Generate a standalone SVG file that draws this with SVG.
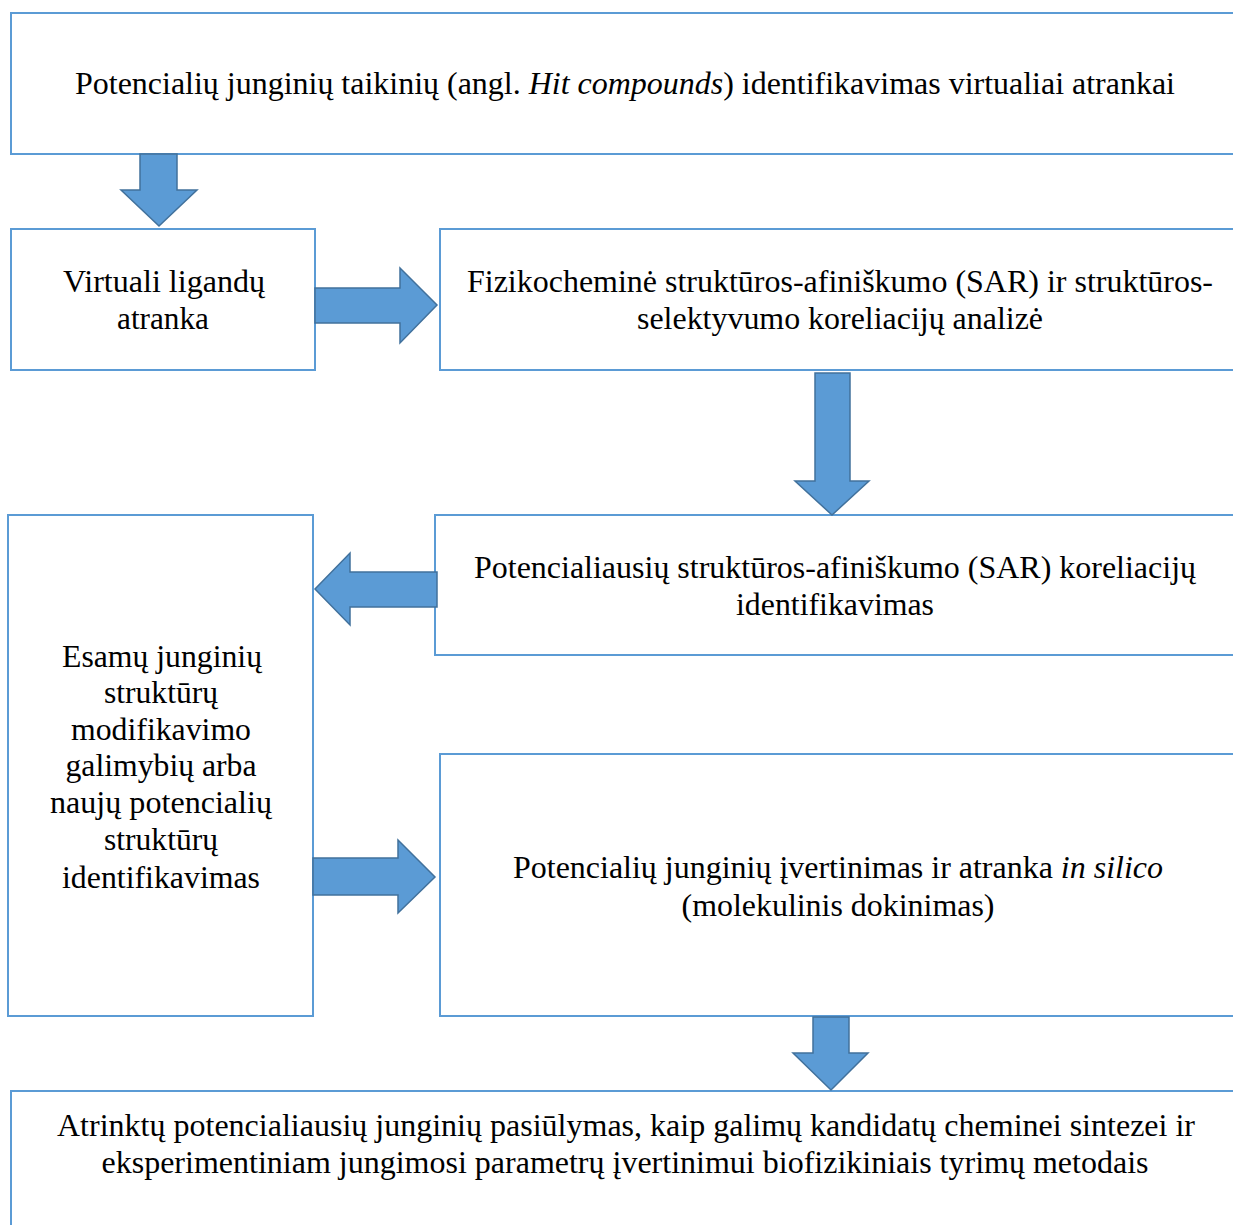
<svg xmlns="http://www.w3.org/2000/svg" width="1233" height="1225" viewBox="0 0 1233 1225">
<style>
.box{fill:#ffffff;stroke:#5B9BD5;stroke-width:2}
.arr{fill:#5B9BD5;stroke:#41719C;stroke-width:1.5;stroke-linejoin:miter}
text{font-family:'Liberation Serif','Times New Roman',serif;font-size:31px;fill:#000;text-anchor:middle}
.i{font-style:italic}
</style>
<rect width="1233" height="1225" fill="#ffffff"/>
<g id="n1"><rect class="box" x="11" y="13" width="1240" height="141"/>
<text x="625" y="94" textLength="1100" lengthAdjust="spacingAndGlyphs">Potencialių junginių taikinių (angl. <tspan class="i">Hit compounds</tspan>) identifikavimas virtualiai atrankai</text></g>
<g id="n2"><rect class="box" x="11" y="229" width="304" height="141"/>
<text x="164" y="292" textLength="202" lengthAdjust="spacingAndGlyphs">Virtuali ligandų</text><text x="163" y="329" textLength="92" lengthAdjust="spacingAndGlyphs">atranka</text></g>
<g id="n3"><rect class="box" x="440" y="229" width="811" height="141"/>
<text x="840" y="292" textLength="746" lengthAdjust="spacingAndGlyphs">Fizikocheminė struktūros-afiniškumo (SAR) ir struktūros-</text><text x="840" y="329" textLength="406" lengthAdjust="spacingAndGlyphs">selektyvumo koreliacijų analizė</text></g>
<g id="n4"><rect class="box" x="435" y="515" width="816" height="140"/>
<text x="835" y="578" textLength="722" lengthAdjust="spacingAndGlyphs">Potencialiausių struktūros-afiniškumo (SAR) koreliacijų</text><text x="835" y="615" textLength="198" lengthAdjust="spacingAndGlyphs">identifikavimas</text></g>
<g id="n5"><rect class="box" x="8" y="515" width="305" height="501"/>
<text x="162" y="667" textLength="200" lengthAdjust="spacingAndGlyphs">Esamų junginių</text><text x="161" y="703" textLength="114" lengthAdjust="spacingAndGlyphs">struktūrų</text><text x="161" y="740" textLength="180" lengthAdjust="spacingAndGlyphs">modifikavimo</text><text x="161" y="776" textLength="191" lengthAdjust="spacingAndGlyphs">galimybių arba</text><text x="161" y="813" textLength="222" lengthAdjust="spacingAndGlyphs">naujų potencialių</text><text x="161" y="850" textLength="114" lengthAdjust="spacingAndGlyphs">struktūrų</text><text x="161" y="888" textLength="198" lengthAdjust="spacingAndGlyphs">identifikavimas</text></g>
<g id="n6"><rect class="box" x="440" y="754" width="811" height="262"/>
<text x="838" y="878" textLength="650" lengthAdjust="spacingAndGlyphs">Potencialių junginių įvertinimas ir atranka <tspan class="i">in silico</tspan></text><text x="838" y="916" textLength="313" lengthAdjust="spacingAndGlyphs">(molekulinis dokinimas)</text></g>
<g id="n7"><rect class="box" x="11" y="1091" width="1240" height="150"/>
<text x="626" y="1136" textLength="1138" lengthAdjust="spacingAndGlyphs">Atrinktų potencialiausių junginių pasiūlymas, kaip galimų kandidatų cheminei sintezei ir</text><text x="625" y="1173" textLength="1047" lengthAdjust="spacingAndGlyphs">eksperimentiniam jungimosi parametrų įvertinimui biofizikiniais tyrimų metodais</text></g>
<g id="connectors">
<polygon class="arr" points="140,154 177,154 177,190 197,190 159,226 121,190 140,190"/>
<polygon class="arr" points="315,288 400,288 400,268 437,305 400,343 400,323 315,323"/>
<polygon class="arr" points="815,373 850,373 850,481 869,481 832,515 795,481 815,481"/>
<polygon class="arr" points="437,572 350,572 350,553 315,589 350,625 350,607 437,607"/>
<polygon class="arr" points="313,858 398,858 398,840 435,877 398,913 398,895 313,895"/>
<polygon class="arr" points="813,1017 849,1017 849,1053 868,1053 831,1090 793,1053 813,1053"/>
</g>
</svg>
